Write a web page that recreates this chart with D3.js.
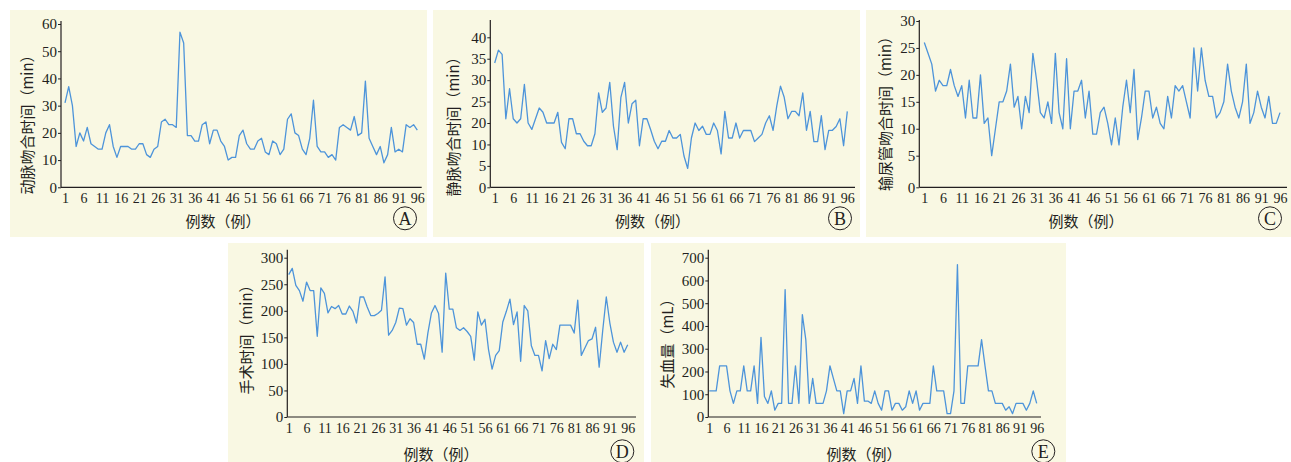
<!DOCTYPE html>
<html>
<head>
  <meta charset="utf-8">
  <title>operation times</title>
  <script src="https://cdn.jsdelivr.net/npm/d3@7"></script>
  <style>
    body { margin: 0; background: #fff; }
    svg text { fill: #231f20; }
  </style>
</head>
<body>
  <div id="chart"></div>
  <script type="text/javascript">
    // case labels on the x axis
    var caseTicks = [1, 6, 11, 16, 21, 26, 31, 36, 41, 46, 51, 56, 61, 66, 71, 76, 81, 86, 91, 96];

    // A: arterial anastomosis time (min)
    var arterialTime = [31, 37, 30, 15, 20, 17, 22, 16, 15, 14,
      14, 20, 23, 15, 11, 15, 15, 15, 14, 14,
      16, 16, 12, 11, 14, 15, 24, 25, 23, 23,
      22, 57, 53, 19, 19, 17, 17, 23, 24, 16,
      21, 21, 17, 15, 10, 11, 11, 19, 21, 16,
      14, 14, 17, 18, 13, 12, 17, 16, 12, 14,
      25, 27, 20, 19, 14, 12, 18, 32, 15, 13,
      13, 11, 12, 10, 22, 23, 22, 21, 26, 19,
      20, 39, 18, 15, 12, 15, 9, 12, 22, 13,
      14, 13, 23, 22, 23, 21];

    // B: venous anastomosis time (min), read against the printed labels
    var venousTime = [34, 37, 36, 21, 28, 21, 20, 21, 29, 20,
      17, 21, 23.5, 22.5, 20, 20, 20, 22.5, 11, 9,
      21, 21, 15, 15, 11.5, 9.7, 9.7, 15, 27, 22.5,
      23.5, 29.5, 18.5, 8.8, 26, 29.5, 20, 24.5, 25.3, 9.7,
      21, 21, 17, 11.5, 9, 11.5, 11.5, 16.5, 13, 13,
      14.7, 7.3, 4.4, 13, 20, 16.5, 18.5, 14.7, 14.7, 20,
      16.5, 7.8, 22.7, 13, 13, 20, 13, 16.5, 16.5, 16.5,
      11.3, 13, 14.7, 20, 21.7, 16.6, 24, 28.6, 26, 21,
      22.7, 22.7, 21.7, 27, 16.6, 22.7, 11.3, 11.3, 21.7, 8.8,
      16.6, 16.6, 18.4, 21, 9.7, 22.7];

    // C: ureter anastomosis time (min)
    var ureterTime = [26, 24, 22, 17, 19, 18, 18, 21, 18, 16,
      18, 12, 19, 12, 12, 20, 11, 12, 5, 10,
      15, 15, 17, 22, 14, 16, 10, 16, 13, 24,
      19, 13, 12, 15, 11, 24, 13, 10, 23, 10,
      17, 17, 19, 12, 17, 9, 9, 13, 14, 11,
      7, 12, 7, 14, 19, 13, 21, 8, 12, 17,
      17, 12, 14, 11, 10, 16, 12, 18, 17, 18,
      15, 12, 25, 17, 25, 19, 16, 16, 12, 13,
      15, 22, 17, 14, 12, 15, 22, 11, 13, 17,
      14, 12, 16, 11, 11, 13];

    // D: operation time (min)
    var surgeryTime = [268, 280, 248, 238, 218, 254, 238, 238, 152, 243,
      233, 196, 208, 204, 210, 194, 194, 209, 199, 177,
      226, 226, 207, 191, 191, 195, 201, 264, 154, 163,
      178, 205, 204, 173, 185, 178, 137, 137, 109, 158,
      196, 210, 195, 122, 271, 203, 203, 168, 163, 168,
      161, 152, 107, 198, 173, 184, 127, 90, 116, 125,
      179, 199, 222, 174, 198, 105, 210, 200, 134, 116,
      116, 87, 144, 110, 137, 127, 173, 173, 173, 173,
      158, 220, 116, 130, 144, 147, 169, 94, 163, 226,
      177, 141, 122, 141, 122, 136];

    // E: blood loss (mL)
    var bloodLoss = [115, 115, 115, 225, 225, 225, 115, 60, 115, 115,
      225, 115, 115, 225, 60, 350, 90, 60, 115, 30,
      60, 60, 560, 60, 60, 225, 60, 450, 340, 60,
      170, 60, 60, 60, 115, 225, 170, 115, 115, 15,
      115, 115, 170, 60, 225, 70, 70, 60, 115, 60,
      30, 115, 115, 30, 60, 60, 30, 45, 115, 60,
      115, 30, 60, 60, 60, 225, 115, 115, 115, 15,
      15, 115, 670, 60, 60, 225, 225, 225, 225, 340,
      225, 115, 115, 60, 60, 60, 30, 45, 15, 60,
      60, 60, 30, 60, 115, 60];

    // y tick labels as printed
    var yTicksA = [0, 10, 20, 30, 40, 50, 60];
    var yTicksB = [0, 5, 10, 20, 25, 30, 35, 40];
    var yTicksC = [0, 5, 10, 15, 20, 25, 30];
    var yTicksD = [0, 50, 100, 150, 200, 250, 300];
    var yTicksE = [0, 100, 200, 300, 400, 500, 600, 700];

    var w = 1291;
    var h = 462;
    var bg = "#f9f8e3";
    var lineColor = "#4d94da";

    var svg = d3.select("#chart")
      .append("svg")
      .attr("width", w)
      .attr("height", h);

    function evenRange(n, bottom, top) {
      return d3.range(n).map(function(i) { return bottom - i * (bottom - top) / (n - 1); });
    }

    var panels = [
      { tag: "A", values: arterialTime, ticks: yTicksA, title: "动脉吻合时间（min）",
        box: [10, 10, 417, 227], axisX: 61, axisTop: 21,
        yDomain: [0, 60], yRange: [187.3, 24],
        xr: [65, 417.3], xEnd: 421.7,
        yTitle: [26, 121], xTitle: [223, 220], badge: [405, 218.3] },
      { tag: "B", values: venousTime, ticks: yTicksB, title: "静脉吻合时间（min）",
        box: [433, 10, 427, 227], axisX: 490.3, axisTop: 20,
        yDomain: yTicksB, yRange: evenRange(yTicksB.length, 187.3, 37.3),
        xr: [494.7, 847.3], xEnd: 855,
        yTitle: [452, 123], xTitle: [652.5, 220], badge: [840, 218.3] },
      { tag: "C", values: ureterTime, ticks: yTicksC, title: "输尿管吻合时间（min）",
        box: [866, 10, 425, 227], axisX: 919.3, axisTop: 20,
        yDomain: [0, 5, 30], yRange: [187.3, 155.7, 21],
        xr: [924.3, 1280], xEnd: 1287,
        yTitle: [884.5, 110], xTitle: [1086, 220], badge: [1270, 218.3] },
      { tag: "D", values: surgeryTime, ticks: yTicksD, title: "手术时间（min）",
        box: [228, 243, 416, 219], axisX: 287.3, axisTop: 249.7,
        yDomain: [0, 300], yRange: [417, 257.7],
        xr: [288.7, 627.7], xEnd: 636,
        yTitle: [245, 336], xTitle: [441, 453], badge: [622.3, 451.3] },
      { tag: "E", values: bloodLoss, ticks: yTicksE, title: "失血量（mL）",
        box: [651, 243, 415, 219], axisX: 708.3, axisTop: 249.7,
        yDomain: [0, 700], yRange: [417, 257.7],
        xr: [709.3, 1036.7], xEnd: 1041,
        yTitle: [666, 340], xTitle: [864, 453], badge: [1043.3, 451.3] }
    ];

    panels.forEach(function(p) {
      var g = svg.append("g");

      g.append("rect")
        .attr("x", p.box[0])
        .attr("y", p.box[1])
        .attr("width", p.box[2])
        .attr("height", p.box[3])
        .attr("fill", bg);

      var x = d3.scaleLinear().domain([1, p.values.length]).range(p.xr);
      var y = d3.scaleLinear().domain(p.yDomain).range(p.yRange);
      var y0 = y(0);

      // y axis
      var ya = g.append("g")
        .attr("transform", "translate(" + p.axisX + ",0)")
        .call(d3.axisLeft(y).tickValues(p.ticks).tickSize(3).tickPadding(1).tickSizeOuter(0));
      ya.select(".domain").remove();
      ya.selectAll("line").attr("stroke", "#231f20");
      ya.selectAll("text")
        .attr("font-family", "Liberation Serif, serif")
        .attr("font-size", 15);

      // x axis
      var xa = g.append("g")
        .attr("transform", "translate(0," + y0 + ")")
        .call(d3.axisBottom(x).tickValues(caseTicks).tickSize(0).tickPadding(6));
      xa.select(".domain").remove();
      xa.selectAll("text")
        .attr("font-family", "Liberation Serif, serif")
        .attr("font-size", 14);

      g.append("line")
        .attr("x1", p.axisX).attr("x2", p.axisX)
        .attr("y1", y0).attr("y2", p.axisTop)
        .attr("stroke", "#231f20")
        .attr("stroke-width", 1.2);
      g.append("line")
        .attr("x1", p.axisX).attr("x2", p.xEnd)
        .attr("y1", y0).attr("y2", y0)
        .attr("stroke", "#231f20")
        .attr("stroke-width", 1.2);

      // series
      var line = d3.line()
        .x(function(d, i) { return x(i + 1); })
        .y(function(d) { return y(d); });

      g.append("path")
        .datum(p.values)
        .attr("d", line)
        .attr("fill", "none")
        .attr("stroke", lineColor)
        .attr("stroke-width", 1.3)
        .attr("stroke-linejoin", "round");

      // titles
      g.append("text")
        .attr("transform", "translate(" + p.yTitle[0] + "," + p.yTitle[1] + ") rotate(-90)")
        .attr("text-anchor", "middle")
        .attr("dominant-baseline", "central")
        .attr("font-family", "Noto Sans CJK SC, sans-serif")
        .attr("font-size", 15)
        .text(p.title);

      g.append("text")
        .attr("x", p.xTitle[0])
        .attr("y", p.xTitle[1])
        .attr("text-anchor", "middle")
        .attr("dominant-baseline", "central")
        .attr("font-family", "Noto Sans CJK SC, sans-serif")
        .attr("font-size", 15)
        .text("例数（例）");

      // panel letter
      g.append("circle")
        .attr("cx", p.badge[0])
        .attr("cy", p.badge[1])
        .attr("r", 11.5)
        .attr("fill", "none")
        .attr("stroke", "#231f20")
        .attr("stroke-width", 1);
      g.append("text")
        .attr("x", p.badge[0])
        .attr("y", p.badge[1] + 1)
        .attr("text-anchor", "middle")
        .attr("dominant-baseline", "central")
        .attr("font-family", "Liberation Serif, serif")
        .attr("font-size", 18)
        .text(p.tag);
    });
  </script>
</body>
</html>
